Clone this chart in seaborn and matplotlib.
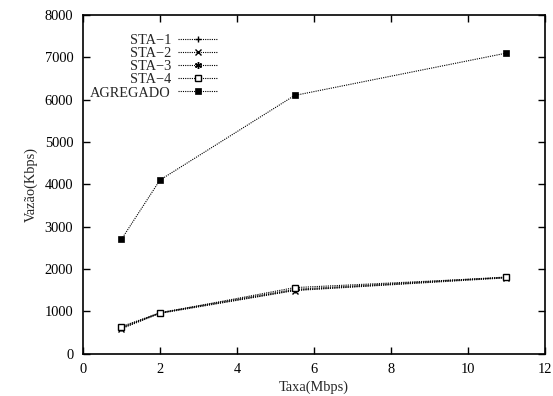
import pandas as pd
import matplotlib
matplotlib.use('Agg')
import matplotlib.pyplot as plt
import seaborn as sns

# data
taxa = [1, 2, 5.5, 11]
sta1 = [600, 960, 1500, 1800]
sta2 = [590, 950, 1490, 1790]
sta3 = [620, 970, 1520, 1810]
sta4 = [640, 960, 1560, 1800]
agregado = [2700, 4100, 6100, 7100]

series_names = ['STA\u22121', 'STA\u22122', 'STA\u22123', 'STA\u22124', 'AGREGADO']
series_values = [sta1, sta2, sta3, sta4, agregado]

sns.set_style('ticks')
plt.rcParams['font.family'] = ['Liberation Serif', 'DejaVu Serif']

fig = plt.figure(figsize=(5.53, 3.96), dpi=100)
ax = fig.add_axes([0.150, 0.107, 0.835, 0.855])

styles = {
    'STA\u22121': dict(marker='+', markersize=5, markerfacecolor='black', markeredgewidth=1.0),
    'STA\u22122': dict(marker='x', markersize=4, markerfacecolor='black', markeredgewidth=1.0),
    'STA\u22123': dict(marker=(6, 2, 0), markersize=5, markerfacecolor='black', markeredgewidth=1.0),
    'STA\u22124': dict(marker='s', markersize=4.5, markerfacecolor='white', markeredgewidth=1.0),
    'AGREGADO': dict(marker='s', markersize=4.5, markerfacecolor='black', markeredgewidth=0.5),
}

for name, vals in zip(series_names, series_values):
    df = pd.DataFrame({'taxa': taxa, 'vazao': vals})
    sns.lineplot(data=df, x='taxa', y='vazao', ax=ax, color='black',
                 linestyle=(0, (1, 1)), linewidth=0.8, markeredgecolor='black',
                 label=name, **styles[name])

ax.set_xlim(0, 12)
ax.set_ylim(0, 8000)
ax.set_xticks(range(0, 13, 2))
ax.set_yticks(range(0, 8001, 1000))
ax.tick_params(direction='in', top=True, right=True, length=5, width=1,
               labelsize=10.4, pad=7, colors='black')
for s in ax.spines.values():
    s.set_visible(True)
    s.set_linewidth(1.2)
    s.set_color('black')

ax.set_xlabel('Taxa(Mbps)', fontsize=10.4, labelpad=3)
ax.set_ylabel('Vaz\u00e3o(Kbps)', fontsize=10.4, labelpad=5)

leg = ax.legend(loc='upper left', bbox_to_anchor=(-0.006, 0.974), frameon=False,
                markerfirst=False, fontsize=10.4, labelspacing=0.0,
                handlelength=2.7, handletextpad=0.5, borderpad=0.2)

fig.savefig('out.png', dpi=100)
